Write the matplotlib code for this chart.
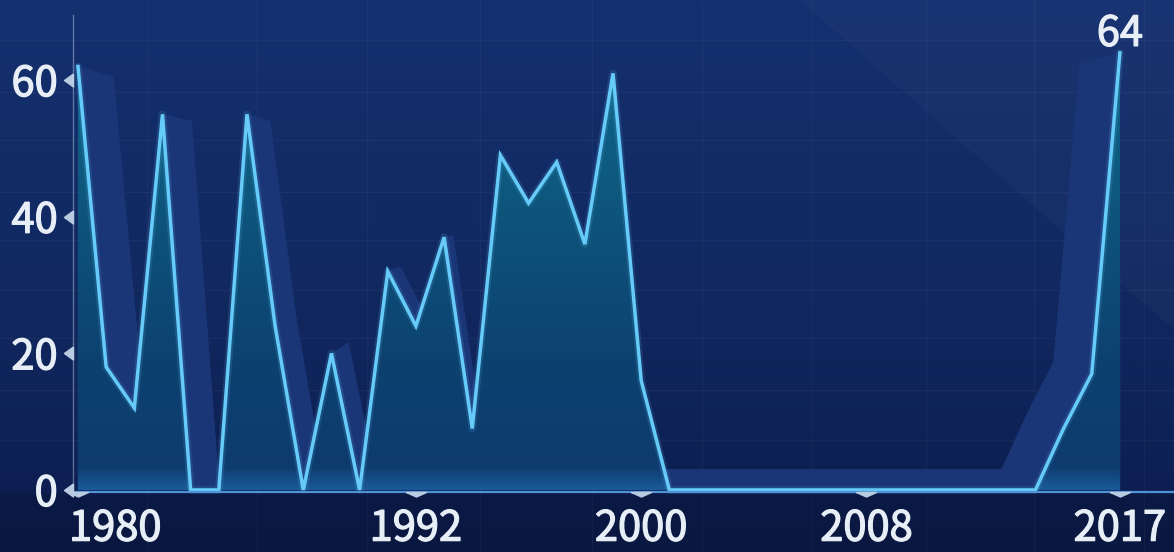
import numpy as np
import matplotlib
matplotlib.use('Agg')
import matplotlib.pyplot as plt
from matplotlib.colors import LinearSegmentedColormap
from matplotlib.patches import Polygon
from matplotlib.collections import PolyCollection
from matplotlib.path import Path
from matplotlib.markers import MarkerStyle
from matplotlib.transforms import ScaledTranslation
import matplotlib.patheffects as pe

# ---------------- data ----------------
years = list(range(1980, 2018))
values = [62, 18, 12, 55, 0, 0, 55, 24, 0, 20, 0, 32, 24, 37, 9, 49, 42, 48, 36, 61, 16, 0,
          0, 0, 0, 0, 0, 0, 0, 0, 0, 0, 0, 0, 0,
          9, 17, 64]
xtick_years = [1980, 1992, 2000, 2008, 2017]
ytick_values = [0, 20, 40, 60]

FONT = ['Noto Sans CJK SC', 'DejaVu Sans']
TXT = '#e8eef6'
TXT_FX = [pe.withStroke(linewidth=0.9, foreground=TXT)]

W, H = 1174, 552
fig = plt.figure(figsize=(W / 100, H / 100), dpi=100)

# ---------------- background ----------------
bg = fig.add_axes([0, 0, 1, 1], zorder=-10)
bg.set_xlim(0, W)
bg.set_ylim(H, 0)
bg.axis('off')
bg_cmap = LinearSegmentedColormap.from_list(
    'bg', [(0.0, '#14306f'), (0.55, '#11285f'), (0.89, '#0d1f52'), (0.90, '#0b1a45'), (1.0, '#0a1740')])
grad = np.linspace(0, 1, 400).reshape(-1, 1)
bg.imshow(grad, cmap=bg_cmap, extent=(0, W, H, 0), aspect='auto', zorder=0)
# light diagonal facet in the upper right
bg.add_patch(Polygon([(800, 0), (W, 0), (W, 330)], closed=True, facecolor='white',
                     alpha=0.022, edgecolor='none', zorder=1))
# faint decorative grid
for gy in [40, 92, 140, 192, 240, 290, 338, 390, 440]:
    bg.axhline(gy, color='white', alpha=0.04, lw=1, zorder=2)
for gx in [147, 257, 367, 480, 592, 702, 811, 926, 1034, 1144]:
    bg.axvline(gx, color='white', alpha=0.03, lw=1, zorder=2)

# ---------------- main axes ----------------
px_per_year = 28.16
left_px, bottom_px, top_px = 73, 492, 15
ax = fig.add_axes([left_px / W, (H - bottom_px) / H, 1 - left_px / W, (bottom_px - top_px) / H])
ax.set_facecolor('none')
x0 = years[0] - (78 - left_px) / px_per_year
ax.set_xlim(x0, x0 + (W - left_px) / px_per_year)
ax.set_ylim(-0.3, -0.3 + (bottom_px - top_px) / 6.83)

x = np.array(years, dtype=float)
y = np.array(values, dtype=float)

# 3D-ish extrusion shadow toward a vanishing point
cx, cy, f = 1997.3, 40.5, 0.072
sx = x + f * (cx - x)
sy = y + f * (cy - y)
by = f * cy
polys = []
polys.append([(sx[0], by)] + list(zip(sx, sy)) + [(sx[-1], by)])
for i in range(len(x) - 1):
    polys.append([(x[i], y[i]), (x[i + 1], y[i + 1]), (sx[i + 1], sy[i + 1]), (sx[i], sy[i])])
polys.append([(x[0], 0), (x[0], y[0]), (sx[0], sy[0]), (sx[0], by)])
polys.append([(x[-1], 0), (x[-1], y[-1]), (sx[-1], sy[-1]), (sx[-1], by)])
polys.append([(x[0], 0), (x[-1], 0), (sx[-1], by), (sx[0], by)])
SHADOW = '#1a3677'
shadow = PolyCollection(polys, facecolors=SHADOW, edgecolors=SHADOW, linewidths=0.6, zorder=1)
ax.add_collection(shadow)

# gradient area fill
area = Polygon([(x[0], 0)] + list(zip(x, y)) + [(x[-1], 0)], closed=True,
               facecolor='none', edgecolor='none')
ax.add_patch(area)
fill_cmap = LinearSegmentedColormap.from_list(
    'fill', [(0.0, '#1a5a98'), (0.05, '#0e3b6e'), (0.3, '#0c4270'), (0.7, '#0e587e'), (1.0, '#10688a')])
fg = np.linspace(0, 1, 400).reshape(-1, 1)
im = ax.imshow(fg, cmap=fill_cmap, origin='lower', extent=(x[0], x[-1], 0, max(values)),
               aspect='auto', zorder=2)
im.set_clip_path(area)

# line with soft glow
ax.plot(x, y, color='#5fc4f5', lw=5.5, alpha=0.15, solid_joinstyle='round',
        solid_capstyle='round', zorder=3, clip_on=False)
ax.plot(x, y, color='#66cbf8', lw=2.5, solid_joinstyle='miter', zorder=4, clip_on=False)

# peak label
ax.annotate(str(values[-1]), xy=(x[-1], y[-1]), xytext=(0, 5), textcoords='offset points',
            ha='center', va='baseline', fontsize=30, color=TXT, family=FONT, zorder=5,
            annotation_clip=False, path_effects=TXT_FX)

# ---------------- axes styling ----------------
for s in ['top', 'right']:
    ax.spines[s].set_visible(False)
ax.spines['left'].set_color('#9fb3d4')
ax.spines['left'].set_alpha(0.55)
ax.spines['left'].set_linewidth(1.0)
ax.spines['bottom'].set_color('#4f93d6')
ax.spines['bottom'].set_linewidth(1.6)
ax.spines['bottom'].set_zorder(5)

ax.set_xticks(xtick_years)
ax.set_xticklabels([str(v) for v in xtick_years])
ax.set_yticks(ytick_values)
ax.set_yticklabels([str(v) for v in ytick_values])
ax.tick_params(axis='both', length=0, labelsize=30, colors=TXT)
ax.tick_params(axis='x', pad=12)
ax.tick_params(axis='y', pad=11)
for lab in ax.get_xticklabels() + ax.get_yticklabels():
    lab.set_family(FONT)
    lab.set_path_effects(TXT_FX)
first = ax.get_xticklabels()[0]
first.set_horizontalalignment('left')
first.set_transform(first.get_transform() + ScaledTranslation(-9 / 100, 0, fig.dpi_scale_trans))

# triangle tick markers
tri_down = MarkerStyle(Path([(-1, 0), (1, 0), (0, -0.45), (-1, 0)]))
tri_left = MarkerStyle(Path([(0, 0.65), (-0.9, 0), (0, -0.65), (0, 0.65)]))
ax.plot(xtick_years, [0] * len(xtick_years), transform=ax.get_xaxis_transform(),
        marker=tri_down, markersize=14.5, ls='none', color='#b9cbe0', clip_on=False, zorder=6)
ax.plot([0] * len(ytick_values), ytick_values, transform=ax.get_yaxis_transform(),
        marker=tri_left, markersize=13, ls='none', color='#b9cbe0', clip_on=False, zorder=6)

fig.savefig('out.png', dpi=100)
